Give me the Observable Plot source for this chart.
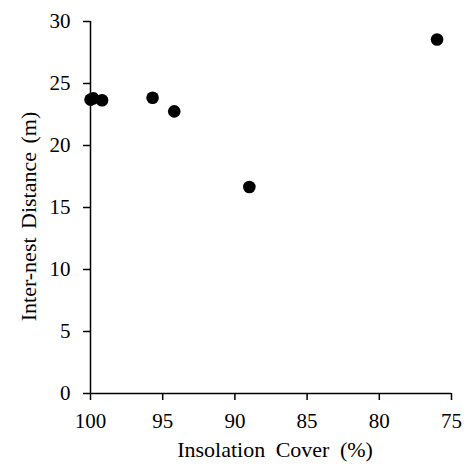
<!DOCTYPE html>
<html>
<head>
<meta charset="utf-8">
<script src="https://cdn.jsdelivr.net/npm/d3@7"></script>
<script src="https://cdn.jsdelivr.net/npm/@observablehq/plot@0.6"></script>
<style>
  html, body { margin: 0; padding: 0; background: #fff; }
  #chart { width: 465px; height: 474px; }
</style>
</head>
<body>
<div id="chart"></div>
<script>
const insolationCover = [100, 99.8, 99.2, 95.7, 94.2, 89.0, 76.0];
const interNestDistance = [23.7, 23.8, 23.65, 23.85, 22.75, 16.65, 28.55];
const xTicks = [100, 95, 90, 85, 80, 75];
const yTicks = [0, 5, 10, 15, 20, 25, 30];
const xLabel = "Insolation Cover (%)";
const yLabel = "Inter-nest Distance (m)";

const data = insolationCover.map((x, i) => ({x, y: interNestDistance[i]}));
const font = "Liberation Serif";

const chart = Plot.plot({
  width: 465,
  height: 474,
  marginLeft: 90,
  marginRight: 14,
  marginTop: 21,
  marginBottom: 81,
  style: {fontFamily: font, background: "#fff", color: "#000"},
  x: {domain: [100, 75], ticks: xTicks},
  y: {domain: [0, 30], ticks: yTicks},
  marks: [
    Plot.axisX({ticks: xTicks, tickSize: 7, tickPadding: 13, fontSize: 21, fontFamily: font, fontVariant: "normal", label: null, stroke: "#000", strokeWidth: 1.5, fill: "#000"}),
    Plot.axisY({ticks: yTicks, tickSize: 7, tickPadding: 13, fontSize: 21, fontFamily: font, fontVariant: "normal", label: null, stroke: "#000", strokeWidth: 1.5, fill: "#000"}),
    Plot.ruleX([100], {stroke: "#000", strokeWidth: 1.5}),
    Plot.ruleY([0], {stroke: "#000", strokeWidth: 1.5}),
    Plot.dot(data, {x: "x", y: "y", r: 6.3, fill: "#000", stroke: "none"}),
    Plot.text([xLabel], {frameAnchor: "bottom", dx: 4, dy: 63, fontSize: 22, fill: "#000", fontFamily: font, textAnchor: "middle"}),
    Plot.text([yLabel], {frameAnchor: "left", dx: -62, dy: 9, rotate: -90, fontSize: 22, fill: "#000", fontFamily: font, textAnchor: "middle"})
  ]
});
d3.select(chart).selectAll("text")
  .filter(function () { return this.textContent === xLabel; })
  .style("word-spacing", "5px");
d3.select(chart).selectAll("text")
  .filter(function () { return this.textContent === yLabel; })
  .style("word-spacing", "3px");
document.getElementById("chart").appendChild(chart);
</script>
</body>
</html>
